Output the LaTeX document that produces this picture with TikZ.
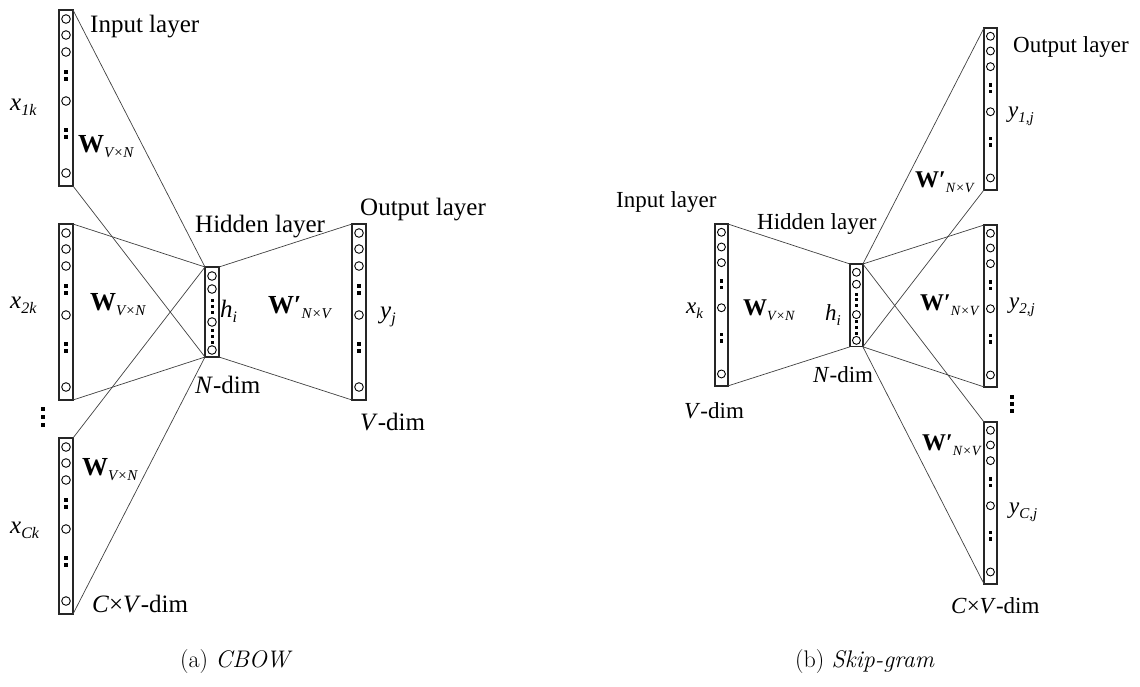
\documentclass[tikz,border=0pt]{standalone}
\usepackage{fontspec}
\usetikzlibrary{calc}
\newfontfamily\tnr{Liberation Serif}
\newcommand\sbs[2]{\raisebox{-0.22em}{\fontsize{#1}{#1}\selectfont\itshape #2}}
\newcommand\Wl[3]{{\fontsize{#1}{#1}\selectfont\bfseries W}\sbs{#2}{#3}}
\newcommand\Wp[3]{{\fontsize{#1}{#1}\selectfont\bfseries W\char"2032}\sbs{#2}{#3}}
\tikzset{
  colbox/.style={draw=black!85, line width=1.3pt, inner sep=0pt, outer sep=0pt, fill=white},
  unit/.style={draw=black, line width=0.9pt},
  conn/.style={draw=black!75, line width=0.7pt},
  laba/.style={inner sep=0pt, anchor=base west, font=\tnr\fontsize{25}{28}\selectfont},
  labb/.style={inner sep=0pt, anchor=base west, font=\tnr\fontsize{23}{26}\selectfont},
  capt/.style={inner sep=0pt, anchor=base west, font=\fontsize{24}{27}\selectfont},
}
% name, left x, top y, scale
\newcommand\colA[4]{%
  \node[colbox, minimum width={14pt*#4}, minimum height={176pt*#4}, anchor=north west] (#1) at (#2,#3) {};
  \foreach \o in {9,25,42,91,163}{\draw[unit] ($(#1.north)+(0,\o*#4)$) circle[radius={4.3pt*#4}];}
  \foreach \o in {62,69,120,127}{\fill ($(#1.north)+(0,\o*#4)$) +(-1.7,-1.7) rectangle +(1.7,1.7);}
}
\newcommand\colH[4]{%
  \node[colbox, minimum width={14pt*#4}, minimum height={90pt*#4}, anchor=north west] (#1) at (#2,#3) {};
  \foreach \o in {9,22,55,83}{\draw[unit] ($(#1.north)+(0,\o*#4)$) circle[radius={4.3pt*#4}];}
  \foreach \o in {33,39,45,63,69,75}{\fill ($(#1.north)+(0,\o*#4)$) +(-1.5,-1.5) rectangle +(1.5,1.5);}
}
\begin{document}
\begin{tikzpicture}[x=1pt, y=-1pt]
\useasboundingbox (0,0) rectangle (1140,686);

% ---------------- (a) CBOW ----------------
\colA{in1}{59}{10}{1}
\colA{in2}{59}{224}{1}
\colA{in3}{59}{438}{1}
\colH{hidA}{205}{267}{1}
\colA{outA}{352}{224}{1}
\foreach \n in {in1,in2,in3}{
  \draw[conn] (\n.north east) -- (hidA.north west);
  \draw[conn] (\n.south east) -- (hidA.south west);
}
\draw[conn] (hidA.north east) -- (outA.north west);
\draw[conn] (hidA.south east) -- (outA.south west);
\foreach \y in {409,417,425}{\fill (43,\y) +(-1.7,-1.7) rectangle +(1.7,1.7);}

\node[laba] (tInA) at (90,32) {Input layer};
\node[laba] (tx1) at (10,110) {\itshape x\sbs{16}{1k}};
\node[laba] (tW1) at (78,152) {\Wl{26}{15}{V×N}};
\node[laba] (tx2) at (10,308) {\itshape x\sbs{16}{2k}};
\node[laba] (tW2) at (90,310) {\Wl{26}{15}{V×N}};
\node[laba] (tW3) at (82,475) {\Wl{26}{15}{V×N}};
\node[laba] (txC) at (10,533) {\itshape x\sbs{16}{Ck}};
\node[laba] (tCVa) at (92,612) {\textit{C}×\textit{V}-dim};
\node[laba] (tHidA) at (195,232) {Hidden layer};
\node[laba] (thA) at (220,317) {\itshape h\sbs{16}{i}};
\node[laba] (tNA) at (195,393) {\textit{N}-dim};
\node[laba] (tWpA) at (268,313) {\Wp{26}{15}{N×V}};
\node[laba] (tOutA) at (360,215) {Output layer};
\node[laba] (tyA) at (380,318) {\itshape y\sbs{16}{j}};
\node[laba] (tVA) at (360,430) {\textit{V}-dim};

% ---------------- (b) Skip-gram ----------------
\colA{inB}{715}{224}{0.92}
\colH{hidB}{850}{264}{0.92}
\colA{y1}{984}{28}{0.92}
\colA{y2}{984}{225}{0.92}
\colA{yC}{984}{422}{0.92}
\draw[conn] (inB.north east) -- (hidB.north west);
\draw[conn] (inB.south east) -- (hidB.south west);
\foreach \n in {y1,y2,yC}{
  \draw[conn] (hidB.north east) -- (\n.north west);
  \draw[conn] (hidB.south east) -- (\n.south west);
}
\foreach \y in {397,404,411}{\fill (1012,\y) +(-1.6,-1.6) rectangle +(1.6,1.6);}

\node[labb] (tInB) at (616,207) {Input layer};
\node[labb] (tHidB) at (757,229) {Hidden layer};
\node[labb] (txk) at (686,313) {\itshape x\sbs{15}{k}};
\node[labb] (tWB) at (743,315) {\Wl{24}{14}{V×N}};
\node[labb] (thB) at (825,320) {\itshape h\sbs{15}{i}};
\node[labb] (tNB) at (813,382) {\textit{N}-dim};
\node[labb] (tVB) at (684,418) {\textit{V}-dim};
\node[labb] (tOutB) at (1013,52) {Output layer};
\node[labb] (ty1) at (1008,117) {\itshape y\sbs{15}{1,j}};
\node[labb] (tWp1) at (915,187) {\Wp{24}{14}{N×V}};
\node[labb] (ty2) at (1009,308) {\itshape y\sbs{15}{2,j}};
\node[labb] (tWp2) at (920,310) {\Wp{24}{14}{N×V}};
\node[labb] (tWp3) at (922,450) {\Wp{24}{14}{N×V}};
\node[labb] (tyC) at (1009,513) {\itshape y\sbs{15}{C,j}};
\node[labb] (tCVb) at (951,613) {\textit{C}×\textit{V}-dim};

% captions
\node[capt] (capA) at (180,667) {(a) \textit{CBOW}};
\node[capt] (capB) at (795,667) {(b) \textit{Skip-gram}};
\end{tikzpicture}
\end{document}
